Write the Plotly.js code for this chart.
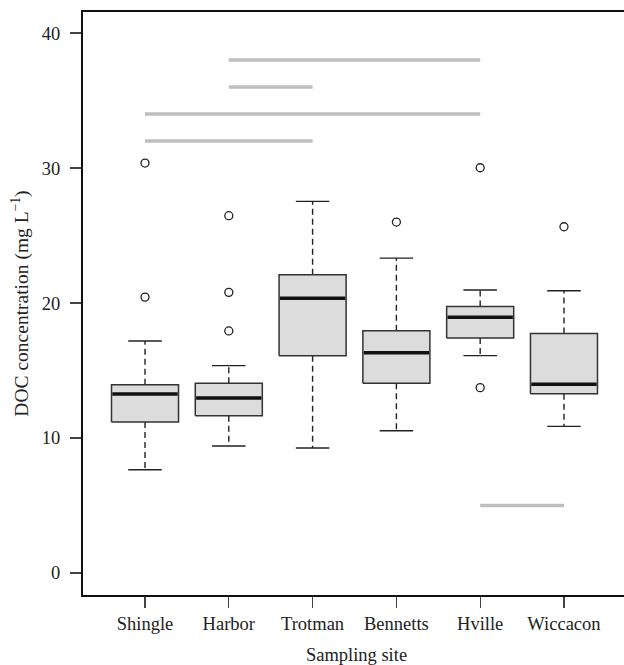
<!DOCTYPE html>
<html>
<head>
<meta charset="utf-8">
<script src="https://cdn.plot.ly/plotly-3.0.1.min.js"></script>
<style>html,body{margin:0;padding:0;background:#fff;overflow:hidden;}#chart{width:630px;height:665px;}</style>
</head>
<body>
<div id="chart"></div>
<script>
// ---- data ----
var sites = ["Shingle", "Harbor", "Trotman", "Bennetts", "Hville", "Wiccacon"];
var lowerWhisker = [7.65, 9.41, 9.26, 10.54, 16.10, 10.86];
var q1 = [11.19, 11.65, 16.10, 14.05, 17.41, 13.28];
var median = [13.26, 12.96, 20.35, 16.32, 18.94, 13.98];
var q3 = [13.95, 14.05, 22.10, 17.95, 19.75, 17.75];
var upperWhisker = [17.19, 15.36, 27.53, 23.33, 20.96, 20.91];
// outliers: site index (1-based) and value
var outlierSite = [1, 1, 2, 2, 2, 4, 5, 5, 6];
var outlierValue = [30.37, 20.44, 26.47, 20.79, 17.93, 26.0, 30.02, 13.73, 25.65];
// significance bars: from site, to site (1-based), height
var sigFrom = [2, 2, 1, 1, 5];
var sigTo = [5, 3, 5, 3, 6];
var sigLevel = [38, 36, 34, 32, 5];
var yTicks = [0, 10, 20, 30, 40];

// ---- build traces ----
var halfBox = 0.4, halfCap = 0.2;
var traces = [];
var txt = "#222222";

// significance lines
var sx = [], sy = [];
for (var k = 0; k < sigLevel.length; k++) {
  sx.push(sigFrom[k], sigTo[k], null);
  sy.push(sigLevel[k], sigLevel[k], null);
}
traces.push({type: "scatter", mode: "lines", x: sx, y: sy, hoverinfo: "skip",
  line: {color: "#bebebe", width: 3.5}, showlegend: false});

// whiskers (dashed)
var wx = [], wy = [];
for (var i = 0; i < sites.length; i++) {
  var p = i + 1;
  wx.push(p, p, null, p, p, null);
  wy.push(q3[i], upperWhisker[i], null, q1[i], lowerWhisker[i], null);
}
traces.push({type: "scatter", mode: "lines", x: wx, y: wy, hoverinfo: "skip",
  line: {color: "#222222", width: 1.4, dash: "6px,4px"}, showlegend: false});

// caps
var cx = [], cy = [];
for (var i = 0; i < sites.length; i++) {
  var p = i + 1;
  cx.push(p - halfCap, p + halfCap, null, p - halfCap, p + halfCap, null);
  cy.push(upperWhisker[i], upperWhisker[i], null, lowerWhisker[i], lowerWhisker[i], null);
}
traces.push({type: "scatter", mode: "lines", x: cx, y: cy, hoverinfo: "skip",
  line: {color: "#222222", width: 1.4}, showlegend: false});

// boxes
for (var i = 0; i < sites.length; i++) {
  var p = i + 1;
  traces.push({type: "scatter", mode: "lines", fill: "toself", fillcolor: "#dcdcdc",
    x: [p - halfBox, p + halfBox, p + halfBox, p - halfBox, p - halfBox],
    y: [q1[i], q1[i], q3[i], q3[i], q1[i]],
    line: {color: "#333333", width: 1.5}, hoverinfo: "skip", showlegend: false});
}

// medians
var mx = [], my = [];
for (var i = 0; i < sites.length; i++) {
  var p = i + 1;
  mx.push(p - halfBox + 0.01, p + halfBox - 0.01, null);
  my.push(median[i], median[i], null);
}
traces.push({type: "scatter", mode: "lines", x: mx, y: my, hoverinfo: "skip",
  line: {color: "#111111", width: 3.5}, showlegend: false});

// outliers
traces.push({type: "scatter", mode: "markers", x: outlierSite, y: outlierValue, hoverinfo: "skip",
  marker: {symbol: "circle-open", size: 8, color: "#222222", line: {width: 1.3, color: "#222222"}},
  showlegend: false});

var font = {family: "Liberation Serif", size: 18.5, color: txt};

var layout = {
  width: 630, height: 665,
  margin: {l: 83, r: 0, t: 12, b: 70},
  paper_bgcolor: "#ffffff", plot_bgcolor: "#ffffff",
  font: font,
  showlegend: false,
  xaxis: {
    range: [0.26, 6.788], showgrid: false, zeroline: false,
    tickmode: "array", tickvals: sites.map(function(s, i){return i + 1;}), ticktext: sites,
    ticks: "outside", ticklen: 11, tickwidth: 1.3, tickcolor: "#444",
    ticklabelstandoff: 0,
    showline: true, mirror: true, linecolor: "#111", linewidth: 2,
    tickfont: font,
    title: {text: "Sampling site", font: font, standoff: 17}
  },
  yaxis: {
    range: [-1.63, 41.56], showgrid: false, zeroline: false,
    tickmode: "array", tickvals: yTicks, ticktext: yTicks.map(String),
    ticks: "outside", ticklen: 11, tickwidth: 1.3, tickcolor: "#444",
    ticklabelstandoff: 6,
    showline: true, mirror: false, linecolor: "#111", linewidth: 2,
    tickfont: font,
    title: {text: "DOC concentration (mg L<sup>\u22121</sup>)", font: {family: "Liberation Serif", size: 19.5, color: txt}, standoff: 8}
  }
};

Plotly.newPlot("chart", traces, layout, {staticPlot: true, displayModeBar: false});
</script>
</body>
</html>
